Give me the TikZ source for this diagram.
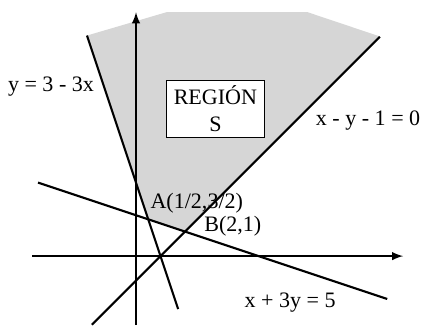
\documentclass[tikz,border=0pt]{standalone}
\usepackage{fontspec}
\setmainfont{Liberation Serif}

\begin{document}
\begin{tikzpicture}[x=0.5cm, y=0.5cm, font=\fontsize{12.8}{16}\selectfont]
  \useasboundingbox (-5.55, -2.82) rectangle (11.67, 10.45);
  \coordinate (A) at (0.5, 1.5);
  \coordinate (B) at (2.0, 1.0);
  \fill[black!16] (-2.0, 9.0) -- (1.27, 9.96) -- (6.98, 9.96) -- (9.96, 8.96) -- (B) -- (A) -- cycle;
  \draw[line width=1.2pt, -latex] (-4.24, 0.0) -- (10.9, 0.0);
  \draw[line width=1.2pt, -latex] (0.0, -2.82) -- (0.0, 9.95);
  \draw[line width=1.2pt] (-2.0, 9.0) -- (1.72, -2.16);
  \draw[line width=1.2pt] (-1.8, -2.8) -- (9.95, 8.95);
  \draw[line width=1.2pt] (-4.0, 3.0) -- (10.25, -1.75);
  \node[draw, fill=white, line width=0.5pt, align=center, inner sep=0pt,
        minimum width=1.98cm, minimum height=1.165cm] (regionS) at (3.24, 6.02) {REGIÓN\\S};
  \node (labelL1) at (-3.47, 6.9) {y = 3 - 3x};
  \node (labelL2) at (9.47, 5.55) {x - y - 1 = 0};
  \node (labelL3) at (6.29, -1.88) {x + 3y = 5};
  \node[inner sep=0pt] (labelA) at (2.48, 2.14) {A(1/2,3/2)};
  \node[inner sep=0pt] (labelB) at (3.95, 1.2) {B(2,1)};
\end{tikzpicture}
\end{document}
